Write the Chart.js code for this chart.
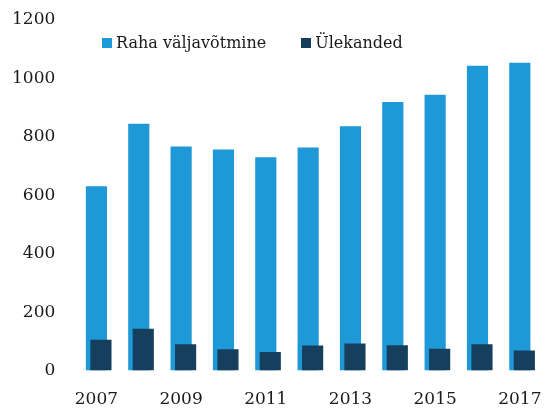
<!DOCTYPE html>
<html>
<head>
<meta charset="utf-8">
<script src="https://cdn.jsdelivr.net/npm/chart.js@4/dist/chart.umd.min.js"></script>
<style>
  html, body { margin: 0; padding: 0; background: #fff; }
  .wrap { position: relative; width: 547px; height: 408px; }
  #legend {
    position: absolute; top: 33px; left: 102px;
    display: flex; gap: 35px;
    font-family: "DejaVu Serif", Georgia, serif; font-size: 16px; color: #1a1a1a;
  }
  #legend span.item { display: flex; align-items: center; gap: 4px; }
  #legend i { display: inline-block; width: 10px; height: 10px; }
</style>
</head>
<body>
<div class="wrap">
  <canvas id="chart" width="547" height="408"></canvas>
  <div id="legend"></div>
</div>
<script>
const years = ['2007', '2008', '2009', '2010', '2011', '2012', '2013', '2014', '2015', '2016', '2017'];
const rahaValjavotmine = [631, 845, 767, 757, 730, 764, 836, 919, 944, 1043, 1054];
const ulekanded = [106, 143, 90, 73, 64, 86, 93, 87, 75, 90, 69];
const yTicks = [0, 200, 400, 600, 800, 1000, 1200];

const font = { family: '"DejaVu Serif", Georgia, serif', size: 17 };

const chart = new Chart(document.getElementById('chart').getContext('2d'), {
    type: 'bar',
    data: {
        labels: years,
        datasets: [{
            label: 'Raha väljavõtmine',
            data: rahaValjavotmine,
            backgroundColor: '#1e98d6',
            grouped: false,
            order: 2,
            xAxisID: 'x'
        }, {
            label: 'Ülekanded',
            data: ulekanded,
            backgroundColor: '#163f5e',
            grouped: false,
            order: 1,
            xAxisID: 'x2'
        }]
    },
    options: {
        responsive: false,
        animation: false,
        categoryPercentage: 1,
        barPercentage: 0.5,
        layout: { padding: { left: 12, right: 6, top: 20, bottom: 1 } },
        plugins: {
            legend: { display: false },
            tooltip: { enabled: false }
        },
        scales: {
            x: {
                type: 'category',
                grid: { display: false, drawTicks: false },
                border: { display: false },
                ticks: {
                    autoSkip: false,
                    maxRotation: 0,
                    padding: 19,
                    color: '#1a1a1a',
                    font: font,
                    callback: function(v, i) { return i % 2 === 0 ? this.getLabelForValue(v) : ''; }
                },
                afterFit: axis => {
                    axis.height -= axis.options.ticks.padding + 3;
                    axis.paddingLeft = 0;
                    axis.paddingRight = 0;
                }
            },
            // hidden axis that shifts the dark bars a bit to the right
            x2: {
                type: 'linear',
                display: false,
                bounds: 'data',
                offset: false,
                min: 2006.5 - 0.106,
                max: 2017.5 - 0.106
            },
            y: {
                min: 0,
                max: 1200,
                grid: { display: false, drawTicks: false },
                border: { display: false },
                afterBuildTicks: axis => { axis.ticks = yTicks.map(v => ({ value: v })); },
                ticks: {
                    padding: 20,
                    color: '#1a1a1a',
                    font: font,
                    callback: v => String(v)
                },
                afterFit: axis => {
                    axis.width -= axis.options.ticks.padding;
                    axis.paddingTop = 0;
                    axis.paddingBottom = 0;
                }
            }
        }
    }
});

// legend overlay inside the plot area
const legend = document.getElementById('legend');
chart.data.datasets.forEach(ds => {
    const item = document.createElement('span');
    item.className = 'item';
    item.innerHTML = '<i style="background:' + ds.backgroundColor + '"></i>' + ds.label;
    legend.appendChild(item);
});
</script>
</body>
</html>
